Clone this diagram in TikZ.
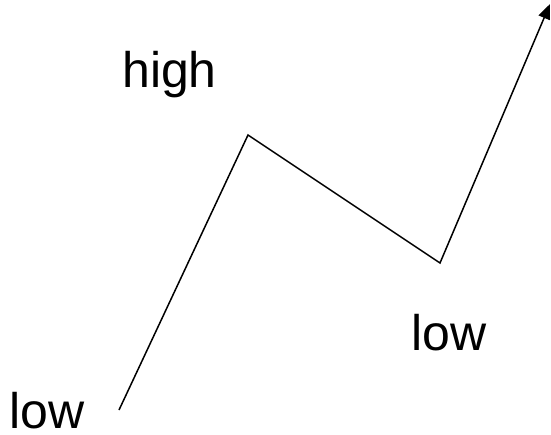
\documentclass[tikz,border=0pt]{standalone}
\usepackage{fontspec}
\setmainfont{Liberation Sans}
\usetikzlibrary{arrows.meta}
\tikzstyle{label} = [anchor=base west, inner sep=0pt, font=\fontsize{50}{54}\selectfont]
\tikzstyle{trend} = [-{Triangle[length=15pt, width=12pt]}, line width=1.5pt]

\begin{document}
\begin{tikzpicture}[x=1pt, y=-1pt]
    \useasboundingbox (0,0) rectangle (551,435);
    \coordinate (start) at (119,410);
    \coordinate (peak) at (248,135);
    \coordinate (trough) at (440,263);
    \coordinate (tip) at (550,4);

    \draw[trend] (start) -- (peak) -- (trough) -- (tip);

    \node[label] (high) at (122,88) {high};
    \node[label] (lowmid) at (411.5,350) {low};
    \node[label] (lowstart) at (9.5,428) {low};
\end{tikzpicture}
\end{document}
